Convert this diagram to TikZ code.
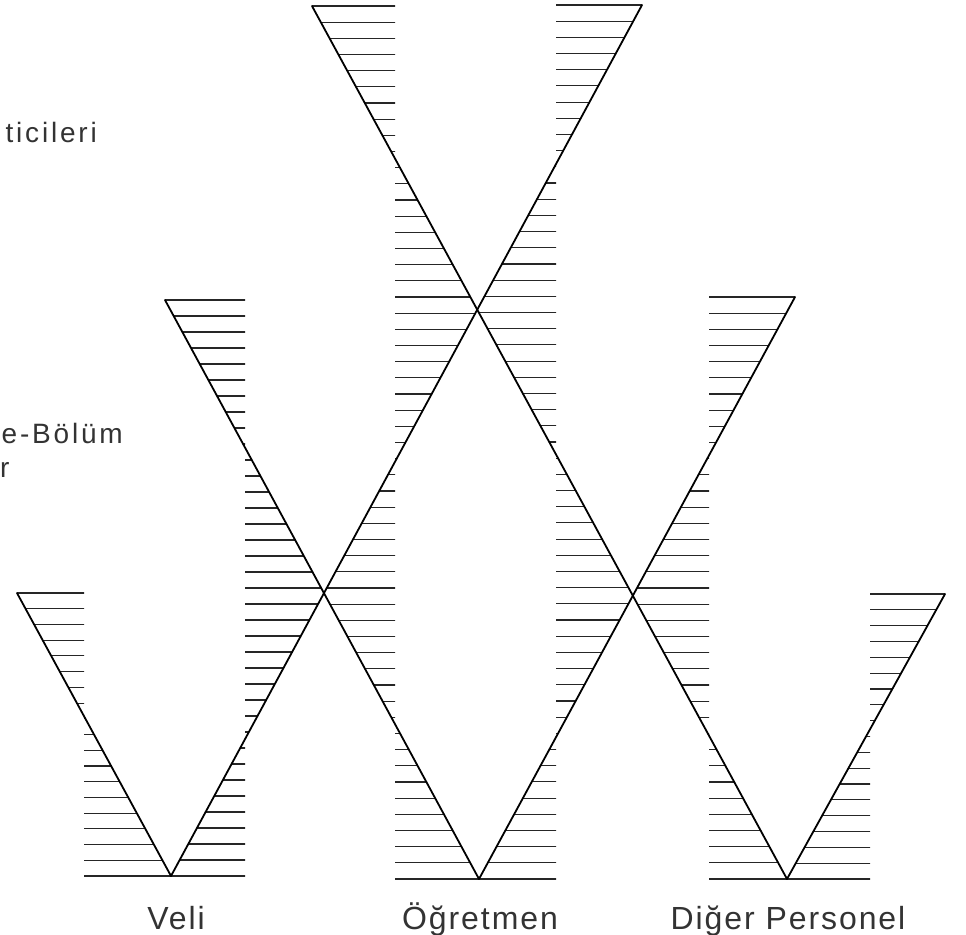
\documentclass[tikz,border=0pt]{standalone}
\usepackage{fontspec}
\setmainfont{Liberation Sans}
\newfontfamily\labelfont[LetterSpace=10]{Liberation Sans}
\newfontfamily\bottomfont[LetterSpace=6]{Liberation Sans}
\tikzset{
  arm/.style={line width=1.8pt, black, line cap=round},
  hatchline/.style={line width=1.1pt, black!85},
  lbl/.style={font=\labelfont\fontsize{28}{34}\selectfont, inner sep=0pt, text=black!80},
  blbl/.style={font=\bottomfont\fontsize{32}{38}\selectfont, inner sep=0pt, text=black!80}
}
\newcommand\hatchlines[3]{%
  \foreach \i in {0,...,#3}{%
    \pgfmathsetmacro\yy{#1+(#2-#1)*(\i/#3)}%
    \draw[hatchline] (0,\yy) -- (966,\yy);}}
\begin{document}
\begin{tikzpicture}[x=1pt,y=-1pt]
\useasboundingbox (0,0) rectangle (966,934);
% lattice points
\coordinate (A) at (312,6);
\coordinate (B) at (642,5);
\coordinate (D) at (165,300);
\coordinate (E) at (795,297);
\coordinate (H) at (17,593);
\coordinate (I) at (945,594);
\coordinate (J) at (171,876);
\coordinate (K) at (479,879);
\coordinate (M) at (787,879);
\coordinate (C) at (intersection of A--M and B--J);
\coordinate (F) at (intersection of B--J and D--K);
\coordinate (G) at (intersection of A--M and E--K);
% hatched strips
\begin{scope}
  \clip (17,591.8) -- (H) -- (J) -- (171,877.2) -- (84,877.2) -- (84,591.8) -- cycle;
  \hatchlines{593}{876}{18}
\end{scope}
\begin{scope}
  \clip (165,298.8) -- (D) -- (F) -- (J) -- (171,877.2) -- (245,877.2) -- (245,298.8) -- cycle;
  \hatchlines{300}{876}{36}
\end{scope}
\begin{scope}
  \clip (312,4.8) -- (A) -- (C) -- (F) -- (K) -- (479,880.2) -- (395,880.2) -- (395,4.8) -- cycle;
  \hatchlines{6}{879}{54}
\end{scope}
\begin{scope}
  \clip (642,3.8) -- (B) -- (C) -- (G) -- (K) -- (479,880.2) -- (556,880.2) -- (556,3.8) -- cycle;
  \hatchlines{5}{879}{54}
\end{scope}
\begin{scope}
  \clip (795,295.8) -- (E) -- (G) -- (M) -- (787,880.2) -- (709,880.2) -- (709,295.8) -- cycle;
  \hatchlines{297}{879}{36}
\end{scope}
\begin{scope}
  \clip (945,592.8) -- (I) -- (M) -- (787,880.2) -- (870,880.2) -- (870,592.8) -- cycle;
  \hatchlines{594}{879}{18}
\end{scope}
% arms
\draw[arm] (A) -- (M);
\draw[arm] (B) -- (J);
\draw[arm] (D) -- (K);
\draw[arm] (E) -- (K);
\draw[arm] (H) -- (J);
\draw[arm] (I) -- (M);
% labels
\node[lbl, anchor=base east] (yon) at (97,142) {ticileri};
\node[lbl, anchor=base east] (bol) at (123,443) {e-Bölüm};
\node[lbl, anchor=base west] (sef) at (0,477) {r};
\node[blbl, anchor=base] (veli) at (176,929) {Veli};
\node[blbl, anchor=base] (ogr) at (480,929) {Öğretmen};
\node[blbl, anchor=base] (diger) at (788,929) {Diğer Personel};
\end{tikzpicture}
\end{document}
